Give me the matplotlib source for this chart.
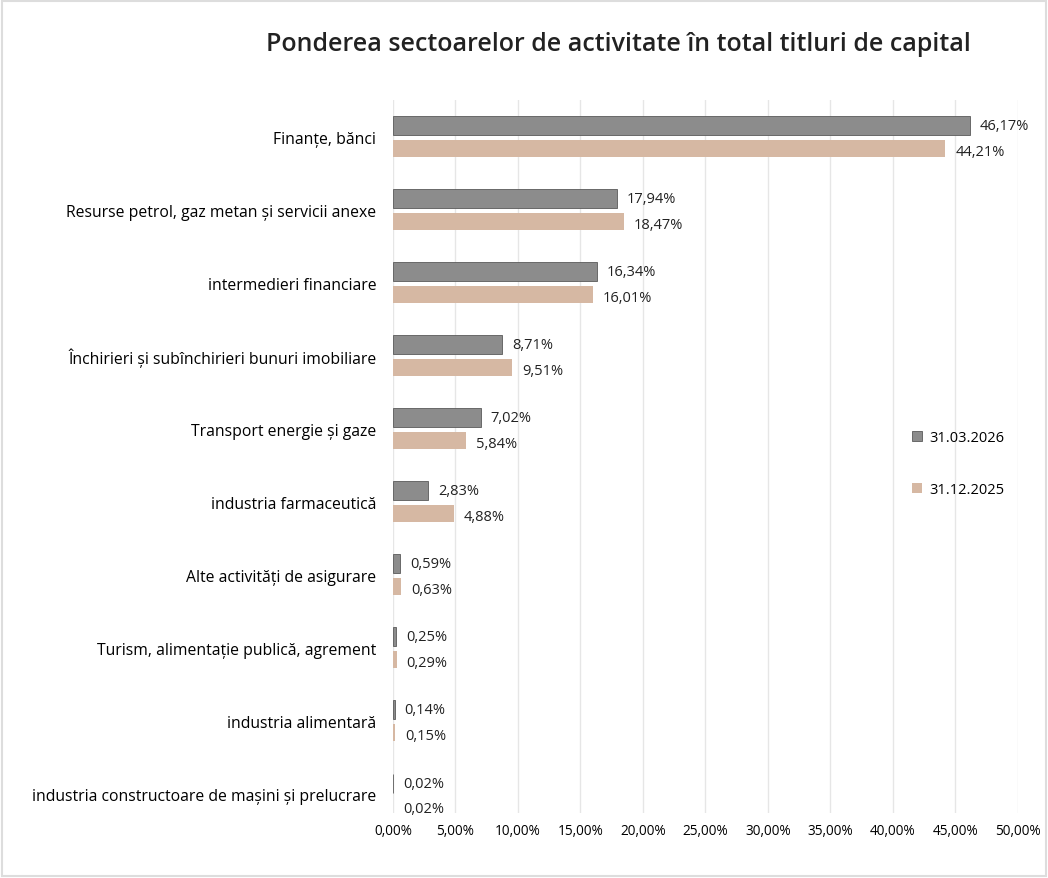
import numpy as np
import matplotlib.pyplot as plt
from matplotlib.ticker import FuncFormatter

plt.rcParams["font.family"] = ["Open Sans", "DejaVu Sans"]

categories = ["Finanțe, bănci",
              "Resurse petrol, gaz metan și servicii anexe",
              "intermedieri financiare",
              "Închirieri și subînchirieri bunuri imobiliare",
              "Transport energie și gaze",
              "industria farmaceutică",
              "Alte activități de asigurare",
              "Turism, alimentație publică, agrement",
              "industria alimentară",
              "industria constructoare de mașini și prelucrare"]
s_2026 = [46.17, 17.94, 16.34, 8.71, 7.02, 2.83, 0.59, 0.25, 0.14, 0.02]
s_2025 = [44.21, 18.47, 16.01, 9.51, 5.84, 4.88, 0.63, 0.29, 0.15, 0.02]
labels = ["31.03.2026", "31.12.2025"]
xticks = [0, 5, 10, 15, 20, 25, 30, 35, 40, 45, 50]

c_dark = "#8c8c8c"
c_tan = "#d6b8a3"

fig = plt.figure(figsize=(10.48, 8.79), dpi=100)
ax = fig.add_axes([0.375, 0.074, 0.596, 0.811])

y = np.arange(len(categories))
b1 = ax.barh(y - 0.15, s_2026, height=0.26, color=c_dark, edgecolor="#5a5a5a", linewidth=0.6, label=labels[0])
b2 = ax.barh(y + 0.16, s_2025, height=0.23, color=c_tan, label=labels[1])

def pct(v):
    return ("%.2f%%" % v).replace(".", ",")

for yy, v in zip(y, s_2026):
    ax.text(v + 0.8, yy - 0.15, pct(v), va="center", ha="left", fontsize=10.5, color="#222222")
for yy, v in zip(y, s_2025):
    ax.text(v + 0.8, yy + 0.2, pct(v), va="center", ha="left", fontsize=10.5, color="#222222")

ax.set_yticks(y)
ax.set_yticklabels(categories, fontsize=11.3)
ax.set_ylim(9.26, -0.5)
ax.set_xlim(0, 50)
ax.set_xticks(xticks)
ax.xaxis.set_major_formatter(FuncFormatter(lambda v, p: pct(v)))
ax.tick_params(axis="x", labelsize=9.8, length=0, pad=7)
ax.tick_params(axis="y", length=0, pad=12)
ax.grid(axis="x", color="#e6e6e6", linewidth=1)
ax.set_axisbelow(True)
for s in ax.spines.values():
    s.set_visible(False)

fig.text(0.59, 0.949, "Ponderea sectoarelor de activitate în total titluri de capital",
         ha="center", va="center", fontsize=18, fontweight="semibold", color="#222222")

ax.legend(loc="center left", bbox_to_anchor=(0.81, 0.49), frameon=False, fontsize=10.5,
          handlelength=0.7, handleheight=0.7, labelspacing=2.5, handletextpad=0.5)

fig.patches.append(plt.Rectangle((0.002, 0.002), 0.996, 0.996, transform=fig.transFigure,
                                 fill=False, edgecolor="#dddddd", linewidth=1.5))

fig.savefig("out.png", dpi=100)
